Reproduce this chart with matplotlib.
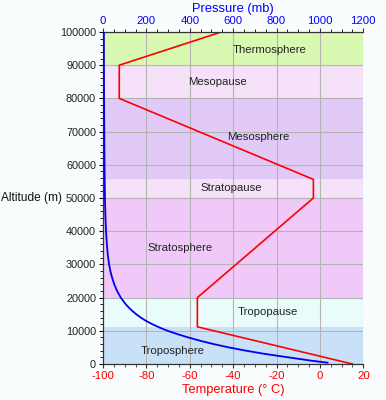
import matplotlib
matplotlib.use("Agg")
import matplotlib.pyplot as plt
from matplotlib.ticker import MultipleLocator

plt.rcParams['font.family'] = ['Liberation Sans', 'DejaVu Sans']
plt.rcParams['axes.unicode_minus'] = False

# atmosphere layers (bottom, top, name, label temp, label altitude)
layer_names = ["Troposphere", "Tropopause", "Stratosphere", "Stratopause",
               "Mesosphere", "Mesopause", "Thermosphere"]
layer_bottom = [0, 11200, 20000, 50000, 55600, 80000, 90000]
layer_top = [11200, 20000, 50000, 55600, 80000, 90000, 100000]
layer_colors = ["#c9e1f8", "#e9fbfb", "#f0c9f8", "#f5e1f8",
                "#e2caf8", "#f5e1f8", "#d9f9b3"]
label_temp = [-68, -24, -64.5, -41, -28.5, -47, -23]
label_alt = [3900, 15700, 35000, 53000, 68400, 85000, 94600]

# temperature profile
temp_alt = [0, 11200, 20000, 50000, 55600, 80000, 90000, 100000]
temp_c = [15, -56.5, -56.5, -3, -3, -92.5, -92.5, -45.5]

# pressure profile
pres_alt = [400, 1000, 2000, 3000, 4000, 5000, 6000, 7000, 8000, 9000, 10000,
            11000, 12000, 13000, 14000, 15000, 16000, 17000, 18000, 19000,
            20000, 22000, 24000, 26000, 28000, 30000, 33000, 36000, 40000,
            45000, 50000, 60000, 80000, 100000]
pres_mb = [1035, 960, 855, 750, 660, 580, 510, 448, 393, 343, 298,
           260, 227, 198, 174, 153, 135, 119, 105, 93,
           82, 65, 52, 42, 34, 28, 22, 18, 14,
           11, 9, 7, 5, 4]

fig = plt.figure(figsize=(3.86, 4.0), dpi=100, facecolor="#f9fcfc")
ax = fig.add_axes([0.2668, 0.09, 0.6744, 0.83])

for b, t, c in zip(layer_bottom, layer_top, layer_colors):
    ax.axhspan(b, t, color=c, lw=0, zorder=0)
for name, tx, ty in zip(layer_names, label_temp, label_alt):
    ax.text(tx, ty, name, ha="center", va="center", fontsize=8.2, color="#222222", zorder=3)

ax.set_xlim(-100, 20)
ax.set_ylim(0, 100000)
ax.xaxis.set_major_locator(MultipleLocator(20))
ax.xaxis.set_minor_locator(MultipleLocator(5))
ax.yaxis.set_major_locator(MultipleLocator(10000))
ax.yaxis.set_minor_locator(MultipleLocator(2000))
ax.grid(True, which="major", color="#b4b4b4", lw=0.8, zorder=1)
ax.set_axisbelow(False)
ax.tick_params(axis="x", colors="#ff0000", labelsize=8.2, length=3, width=0.8, pad=2)
ax.tick_params(axis="x", which="minor", length=2, colors="#333333")
ax.tick_params(axis="x", which="major", color="#333333")
ax.tick_params(axis="y", labelsize=7.8, length=3, width=0.8, pad=2, labelcolor="#222222")
ax.tick_params(axis="y", which="minor", length=2)
for sp in ax.spines.values():
    sp.set_color("#333333")
    sp.set_linewidth(0.8)
ax.spines["right"].set_visible(False)
ax.set_xlabel("Temperature (° C)", color="#ff0000", fontsize=9.3, labelpad=2)
fig.text(0.003, 0.505, "Altitude (m)", fontsize=8.6, color="#111111", ha="left", va="center")

ax.plot(temp_c, temp_alt, color="#ff0000", lw=1.2, zorder=4)

ax2 = ax.twiny()
ax2.set_xlim(0, 1200)
ax2.xaxis.set_major_locator(MultipleLocator(200))
ax2.xaxis.set_minor_locator(MultipleLocator(50))
ax2.tick_params(axis="x", labelcolor="#0000ff", labelsize=8.2, length=3, width=0.8, pad=1, color="#333333")
ax2.tick_params(axis="x", which="minor", length=2)
for sp in ax2.spines.values():
    sp.set_color("#333333")
    sp.set_linewidth(0.8)
ax2.spines["right"].set_visible(False)
ax2.set_xlabel("Pressure (mb)", color="#0000ff", fontsize=9.3, labelpad=3)
ax2.plot(pres_mb, pres_alt, color="#0000ee", lw=1.3, zorder=4)

fig.savefig("out.png", dpi=100, facecolor=fig.get_facecolor())
